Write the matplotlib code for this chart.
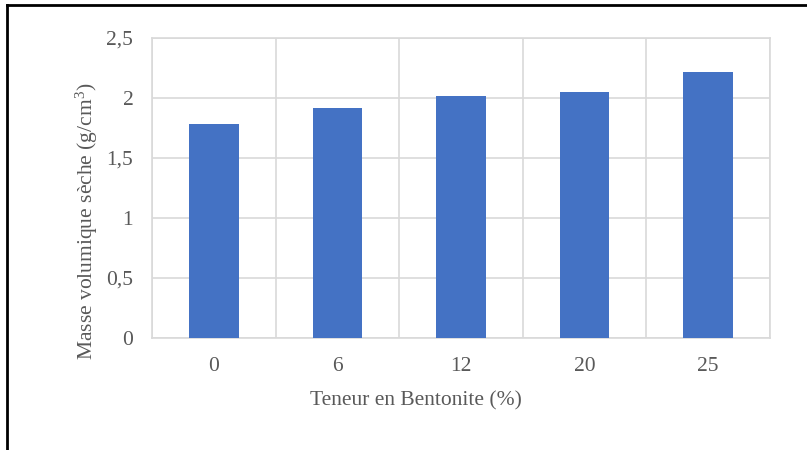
import matplotlib
matplotlib.use("Agg")
import matplotlib.pyplot as plt
from matplotlib.lines import Line2D
import numpy as np

categories = ["0", "6", "12", "20", "25"]
values = [1.78, 1.92, 2.02, 2.05, 2.22]
yticks = [0, 0.5, 1, 1.5, 2, 2.5]
ytick_labels = ["0", "0,5", "1", "1,5", "2", "2,5"]

W, H = 807, 450
fig = plt.figure(figsize=(W/100, H/100), dpi=100)
plt.rcParams['font.family'] = ['Liberation Serif', 'DejaVu Serif']
plt.rcParams['mathtext.fontset'] = 'custom'
plt.rcParams['mathtext.rm'] = 'Liberation Serif'
txt = '#595959'
grid = '#d9d9d9'
fs = 15.5

ax = fig.add_axes([152/W, 1-338/H, (770-152)/W, (338-38)/H])
x = np.arange(len(categories))
ax.bar(x, values, width=0.4, color='#4472C4', zorder=3)
ax.set_xlim(-0.5, len(categories)-0.5)
ax.set_ylim(0, 2.5)
ax.set_yticks(yticks)
ax.set_yticklabels(ytick_labels, color=txt, fontsize=fs)
ax.set_xticks(x)
ax.set_xticklabels(categories, color=txt, fontsize=fs)
ax.tick_params(length=0)
ax.tick_params(axis='y', pad=13.5)
ax.tick_params(axis='x', pad=14)
ax.yaxis.grid(True, color=grid, lw=1.2, zorder=0)
for b in np.arange(-0.5, len(categories), 1.0):
    ax.axvline(b, color=grid, lw=1.2, zorder=0)
for s in ax.spines.values():
    s.set_color(grid)
    s.set_linewidth(1.2)

fig.text(87/W, 1-221/H, "Masse volumique sèche (g/cm$\\mathregular{^3}$)", rotation=90,
         ha='center', va='center', color=txt, fontsize=fs)
fig.text(416/W, 1-401/H, "Teneur en Bentonite (%)", ha='center', va='center',
         color=txt, fontsize=fs)

fig.add_artist(Line2D([7/W, 1], [1-5/H, 1-5/H], color='black', lw=2, transform=fig.transFigure))
fig.add_artist(Line2D([7/W, 7/W], [0, 1-5/H], color='black', lw=2, transform=fig.transFigure))

fig.savefig("out.png", dpi=100)
